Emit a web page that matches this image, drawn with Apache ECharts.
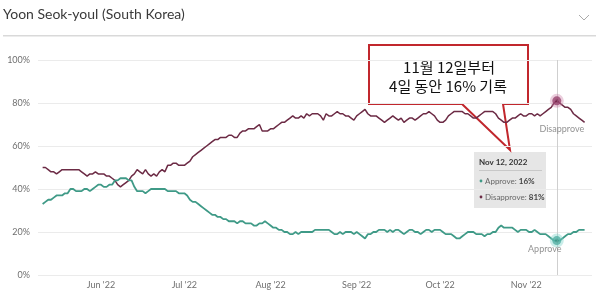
<!DOCTYPE html>
<html>
<head>
<meta charset="utf-8">
<script src="https://cdn.jsdelivr.net/npm/echarts@6/dist/echarts.min.js"></script>
<style>
html,body{margin:0;padding:0;background:#fff;}
#chart{width:600px;height:293px;}
</style>
</head>
<body>
<div id="chart"></div>
<script>
// ---- data (daily, starting 2022-05-11) ----
const startDate = [2022, 4, 11];
const approve = [
33,34,35,35,36,37,37,37,38,38,40,40,39,39,39,40,40,39,40,41,
42,42,41,41,42,42,44,44,45,45,45,44,44,41,39,39,39,38,39,40,
40,40,40,40,40,39,39,39,39,38,38,38,37,35,34,34,33,32,31,30,
29,28,28,27,27,26,26,25,25,25,24,25,25,24,24,24,23,23,24,24,
25,24,23,22,22,21,21,20,20,19,19,20,19,20,20,20,20,20,21,21,
21,21,21,21,20,19,19,20,19,20,20,20,19,20,19,18,17,19,19,20,
20,21,21,21,20,21,20,21,21,20,19,20,21,21,20,20,19,20,21,21,
20,21,21,21,20,19,19,19,18,17,17,18,19,20,20,20,19,19,19,18,
19,19,20,20,22,23,22,22,22,22,21,20,21,21,21,20,20,21,20,19,
19,19,18,17,16,16,16,17,18,19,19,20,20,21,21,21
];
const disapprove = [
50,50,49,48,48,47,48,49,49,49,49,49,49,49,48,47,46,47,47,48,
47,47,47,46,46,45,44,42,41,42,43,44,46,47,49,48,47,49,47,46,
47,46,48,49,48,51,51,52,52,51,51,51,52,53,55,56,57,58,59,60,
61,62,63,63,64,64,64,65,65,64,64,66,67,67,68,68,68,69,70,67,
67,67,68,68,69,70,71,71,72,73,74,73,73,74,73,75,74,75,75,75,
74,72,75,74,74,75,76,75,75,74,74,73,72,74,75,76,77,75,74,74,
74,73,72,71,72,73,74,73,72,73,71,72,73,73,72,73,74,75,75,76,
75,74,72,71,71,72,74,75,76,76,76,76,75,75,74,73,73,74,75,76,
76,76,76,75,73,72,71,71,72,73,73,74,75,74,74,75,75,74,75,74,
75,76,77,78,80,81,80,79,78,78,77,75,74,73,72,71
];
const yTicks = [0, 20, 40, 60, 80, 100];
const highlightDate = [2022, 10, 12];
const seriesNames = ['Approve', 'Disapprove'];
const titleText = 'Yoon Seok-youl (South Korea)';
const noteLines = ['11월 12일부터', '4일 동안 16% 기록'];

// ---- build ----
function dayTs(i){ const d = new Date(startDate[0], startDate[1], startDate[2] + i); return d.getTime(); }
const approveData = approve.map((v,i)=>[dayTs(i), v]);
const disapproveData = disapprove.map((v,i)=>[dayTs(i), v]);
const hTs = new Date(highlightDate[0], highlightDate[1], highlightDate[2]).getTime();
const hIdx = approveData.findIndex(p => p[0] === hTs);
const months = ['Jan','Feb','Mar','Apr','May','Jun','Jul','Aug','Sep','Oct','Nov','Dec'];

const C_APP = '#3f9a87';
const C_DIS = '#6c2b45';
const FONT = 'Lato, "Open Sans", sans-serif';

const chart = echarts.init(document.getElementById('chart'), null, {renderer:'canvas'});
chart.setOption({
  animation:false,
  backgroundColor:'#fff',
  textStyle:{fontFamily:FONT},
  grid:{left:38, right:8, top:60, bottom:18},
  xAxis:{
    type:'time',
    min:new Date(2022,4,9,8).getTime(),
    max:new Date(2022,10,24,16).getTime(),
    splitNumber:7,
    axisLine:{show:false},
    axisTick:{show:false},
    splitLine:{show:false},
    axisLabel:{
      color:'#6f6f6f', fontSize:9, margin:6, fontFamily:FONT, hideOverlap:false,
      formatter:function(v){ const d=new Date(v); if(d.getDate()!==1) return ''; return months[d.getMonth()]+" '"+String(d.getFullYear()).slice(2); }
    }
  },
  yAxis:{
    type:'value', min:yTicks[0], max:yTicks[yTicks.length-1], interval:yTicks[1]-yTicks[0],
    axisLine:{show:false}, axisTick:{show:false},
    splitLine:{lineStyle:{color:'#ebebeb', width:1}},
    axisLabel:{color:'#6f6f6f', fontSize:9, margin:8, formatter:'{value}%', fontFamily:FONT}
  },
  series:[
    {name:seriesNames[1], type:'line', data:disapproveData, showSymbol:false, symbol:'none',
     lineStyle:{color:C_DIS, width:1.5}, itemStyle:{color:C_DIS}, z:2,
     markLine:{silent:true, symbol:['none','none'], label:{show:false},
       lineStyle:{color:'#cfcfcf', width:1, type:'solid'}, data:[{xAxis:hTs}]}},
    {name:seriesNames[0], type:'line', data:approveData, showSymbol:false, symbol:'none',
     lineStyle:{color:C_APP, width:1.8}, itemStyle:{color:C_APP}, z:3},
    {type:'scatter', data:[disapproveData[hIdx]], symbolSize:9, z:5,
     itemStyle:{color:'#7d2450', borderColor:'rgba(200,120,160,0.45)', borderWidth:5},
     label:{show:true, position:'bottom', distance:0, offset:[5,17], formatter:seriesNames[1], color:'#777', fontSize:9, fontFamily:FONT}},
    {type:'scatter', data:[approveData[hIdx]], symbolSize:9, z:5,
     itemStyle:{color:'#3a9a8c', borderColor:'rgba(120,210,200,0.5)', borderWidth:5},
     label:{show:true, position:'bottom', distance:0, offset:[-12,-3], formatter:seriesNames[0], color:'#777', fontSize:9, fontFamily:FONT}}
  ],
  graphic:[
    {type:'text', left:3, top:7, style:{text:titleText, fill:'#3a3a3a', font:'14px '+FONT}},
    {type:'polyline', shape:{points:[[579,15],[584,20],[589,15]]}, style:{stroke:'#aaa', lineWidth:1, fill:null}},
    {type:'rect', shape:{x:3, y:35, width:593, height:1.5}, style:{fill:'#d9d9d9'}},
    // tooltip box
    {type:'group', z:50, children:[
      {type:'rect', shape:{x:474, y:152, width:72, height:56}, style:{fill:'#e6e6e6'}},
      {type:'text', x:479, y:162, style:{text:months[highlightDate[1]]+' '+highlightDate[2]+', '+highlightDate[0], fill:'#333', font:'bold 8px '+FONT, verticalAlign:'middle'}},
      {type:'rect', shape:{x:479, y:170, width:63, height:1}, style:{fill:'#c8c8c8'}},
      {type:'circle', shape:{cx:481, cy:181, r:1.4}, style:{fill:C_APP}},
      {type:'text', x:485, y:181, style:{text:'{a|'+seriesNames[0]+': }{b|'+approve[hIdx]+'%}', verticalAlign:'middle',
        rich:{a:{fill:'#666', font:'8px '+FONT}, b:{fill:'#444', font:'bold 8px '+FONT}}}},
      {type:'circle', shape:{cx:481, cy:197, r:1.4}, style:{fill:C_DIS}},
      {type:'text', x:485, y:197, style:{text:'{a|'+seriesNames[1]+': }{b|'+disapprove[hIdx]+'%}', verticalAlign:'middle',
        rich:{a:{fill:'#666', font:'8px '+FONT}, b:{fill:'#444', font:'bold 8px '+FONT}}}}
    ]},
    // callout
    {type:'group', z:60, children:[
      {type:'rect', shape:{x:369, y:45, width:159, height:59}, style:{fill:'#fff'}},
      {type:'polyline', shape:{points:[[462,104],[369,104],[369,45],[528,45],[528,104],[503,104],[510,150],[462,104]]},
        style:{stroke:'#c1272d', lineWidth:2, fill:null, lineJoin:'miter'}},
      {type:'text', x:449, y:67, style:{text:noteLines[0], fill:'#111', font:'15px "Noto Sans CJK KR"', align:'center', verticalAlign:'middle'}},
      {type:'text', x:448, y:86, style:{text:noteLines[1], fill:'#111', font:'15px "Noto Sans CJK KR"', align:'center', verticalAlign:'middle'}}
    ]}
  ]
});
</script>
</body>
</html>
